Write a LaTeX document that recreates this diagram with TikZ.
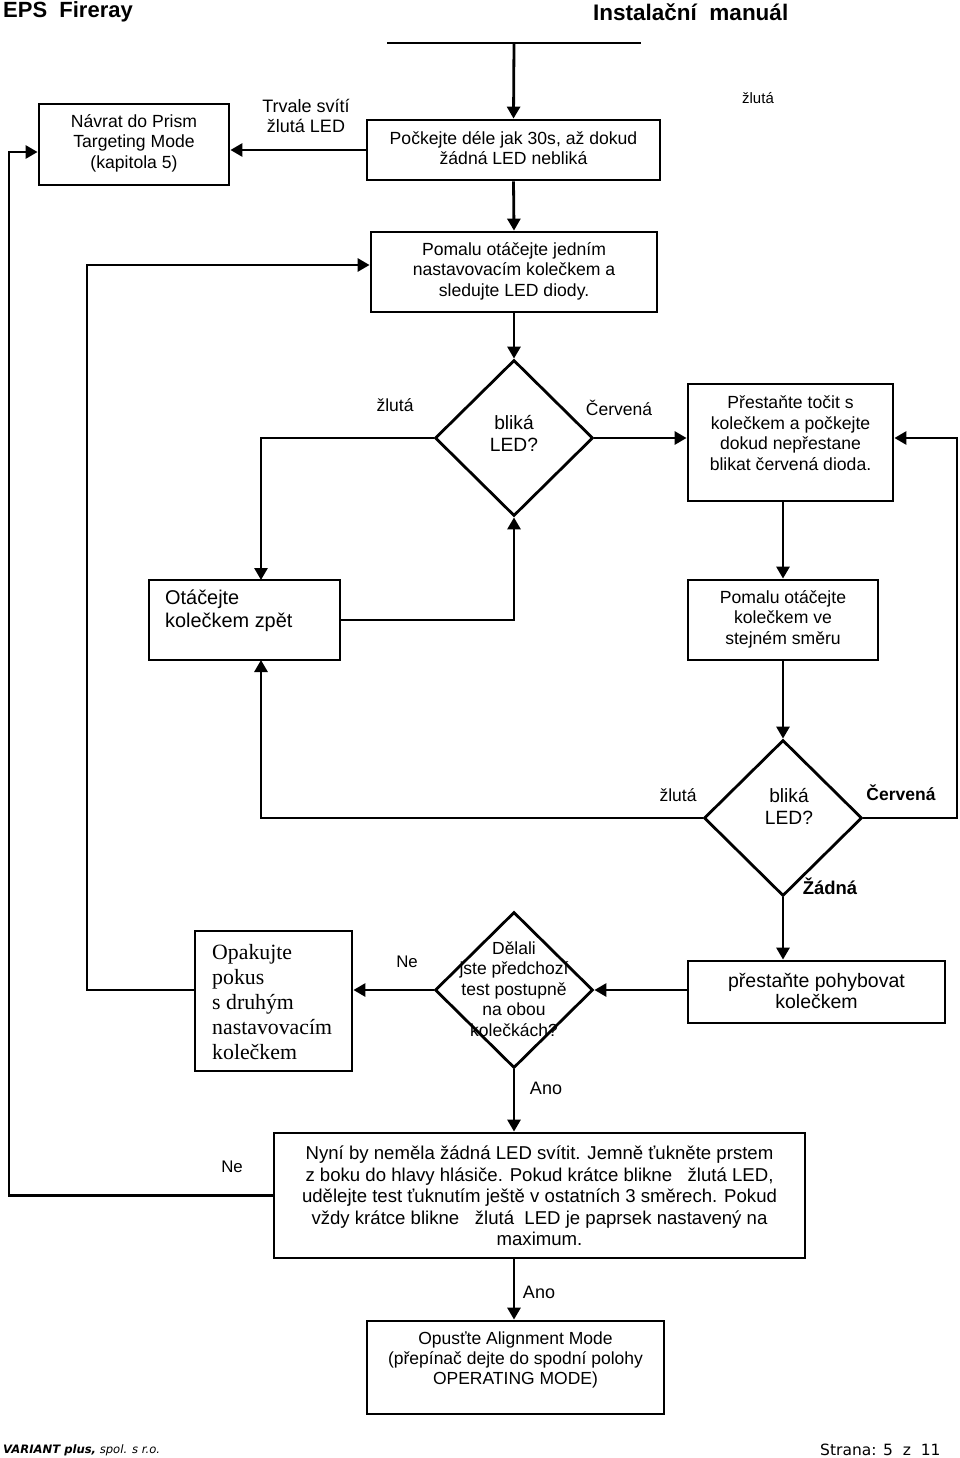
\documentclass[tikz,border=0pt]{standalone}
\usepackage{fontspec}
\setmainfont{Liberation Sans}
\newfontfamily\seriffont{Liberation Serif}
\newfontfamily\footfont{DejaVu Sans}
\usetikzlibrary{arrows.meta,shapes.geometric}
\begin{document}
\begin{tikzpicture}[x=1pt,y=-1pt,
 box/.style={draw,line width=2.8pt,inner sep=0,rectangle},
 dia/.style={draw,line width=2.8pt,inner sep=0,diamond,minimum width=158pt,minimum height=156pt},
 txt/.style={inner sep=0,align=center,font=\fontsize{17.6}{20.5}\selectfont},
 lbl/.style={inner sep=0,align=center,font=\fontsize{17.5}{20}\selectfont},
 conn/.style={line width=2.8pt},
 arr/.style={line width=2.8pt,-{Triangle[length=12pt,width=13pt]}}]
\useasboundingbox (0,0) rectangle (960,1458);

% header / footer
\node[inner sep=0,anchor=west,font=\fontsize{22}{24}\selectfont\bfseries] (h1) at (3,12) {EPS\ \ Fireray};
\node[inner sep=0,anchor=west,font=\fontsize{22.5}{24}\selectfont\bfseries] (h2) at (593,12) {Instalační\ \ manuál};
\node[inner sep=0,anchor=west,font=\fontsize{11.6}{13}\selectfont\footfont\itshape] (f1) at (3,1450) {\textbf{VARIANT plus,} spol. s r.o.};
\node[inner sep=0,anchor=west,font=\fontsize{15.5}{17}\selectfont\footfont] (f2) at (820,1450) {Strana: 5\ \ z\ \ 11};

% boxes
\node[box,minimum width=190pt,minimum height=81pt] (b1) at (134,144.5) {};
\node[box,minimum width=293pt,minimum height=60pt] (b2) at (513.5,150) {};
\node[box,minimum width=286pt,minimum height=80pt] (b3) at (514,272) {};
\node[dia] (d1) at (514,438) {};
\node[box,minimum width=205pt,minimum height=117pt] (b4) at (790.5,442.5) {};
\node[box,minimum width=191pt,minimum height=80pt] (bB) at (244.5,620) {};
\node[box,minimum width=190pt,minimum height=80pt] (b5) at (783,620) {};
\node[dia] (d2) at (783,818) {};
\node[box,minimum width=157pt,minimum height=140pt] (b7) at (273.5,1001) {};
\node[dia] (d3) at (514,990) {};
\node[box,minimum width=257pt,minimum height=62pt] (b6) at (816.5,992) {};
\node[box,minimum width=531pt,minimum height=125pt] (b8) at (539.5,1195.5) {};
\node[box,minimum width=297pt,minimum height=93pt] (b9) at (515.5,1367.5) {};

% texts
\node[txt] (t1) at (134,143) {Návrat do Prism\\Targeting Mode\\(kapitola 5)};
\node[txt] (t2) at (513.5,148) {Počkejte déle jak 30s, až dokud\\žádná LED nebliká};
\node[txt] (t3) at (514,271) {Pomalu otáčejte jedním\\nastavovacím kolečkem a\\sledujte LED diody.};
\node[txt,font=\fontsize{19.2}{22}\selectfont] (td1) at (514,433) {bliká\\LED?};
\node[txt] (t4) at (790.5,433) {Přestaňte točit s\\kolečkem a počkejte\\dokud nepřestane\\blikat červená dioda.};
\node[txt,align=left,anchor=west,font=\fontsize{19.9}{23}\selectfont] (tB) at (165,611) {Otáčejte\\kolečkem zpět};
\node[txt] (t5) at (783,619) {Pomalu otáčejte\\kolečkem ve\\stejném směru};
\node[txt,font=\fontsize{19.2}{22}\selectfont] (td2) at (789,806) {bliká\\LED?};
\node[txt,align=left,anchor=west,font=\fontsize{21.8}{25.2}\selectfont\seriffont] (t7) at (212,1002) {Opakujte\\pokus\\s druhým\\nastavovacím\\kolečkem};
\node[txt,font=\fontsize{17.5}{20.5}\selectfont] (td3) at (514,989) {Dělali\\jste předchozí\\test postupně\\na obou\\kolečkách?};
\node[txt,font=\fontsize{19.5}{21.5}\selectfont] (t6) at (816.5,991) {přestaňte pohybovat\\kolečkem};
\node[txt,font=\fontsize{18.6}{21.6}\selectfont] (t8) at (539.5,1196) {Nyní by neměla žádná LED svítit. Jemně ťukněte prstem\\z boku do hlavy hlásiče. Pokud krátce blikne \ \ žlutá\ LED,\\udělejte test ťuknutím ještě v ostatních 3 směrech. Pokud\\vždy krátce blikne \ \ žlutá\ \ LED je paprsek nastavený na\\maximum.};
\node[txt,font=\fontsize{17.5}{20}\selectfont] (t9) at (515.5,1360) {Opusťte Alignment Mode\\(přepínač dejte do spodní polohy\\OPERATING MODE)};

% labels
\node[lbl,font=\fontsize{18}{20}\selectfont] (l1) at (306,116) {Trvale svítí\\žlutá LED};
\node[lbl,font=\fontsize{15}{16}\selectfont] (l2) at (758,98) {žlutá};
\node[lbl] (l3) at (395,405) {žlutá};
\node[lbl] (l4) at (619,408) {Červená};
\node[lbl] (l5) at (678,795) {žlutá};
\node[lbl,font=\fontsize{17.5}{20}\selectfont\bfseries] (l6) at (901,793) {Červená};
\node[lbl,font=\fontsize{18.5}{20}\selectfont\bfseries] (l7) at (830,886) {Žádná};
\node[lbl,font=\fontsize{16.8}{20}\selectfont] (l8) at (407,962) {Ne};
\node[lbl,font=\fontsize{18}{20}\selectfont] (l9) at (546,1088) {Ano};
\node[lbl,font=\fontsize{16.8}{20}\selectfont] (l10) at (232,1167) {Ne};
\node[lbl,font=\fontsize{18}{20}\selectfont] (l11) at (539,1292) {Ano};

% helper coordinates
\coordinate (topL) at (387,43);
\coordinate (topR) at (641,43);
\coordinate (topM) at (514,43);
\coordinate (xL) at (9,0);
\coordinate (xLL) at (87,0);
\coordinate (xR) at (957,0);
\coordinate (yB3) at (0,265);
\coordinate (yB1) at (0,152);
\coordinate (bBtop) at (261,580);
\coordinate (bBbot) at (261,660);

% connectors
\draw[conn] (topL) -- (topR);
\draw[arr] (topM) -- (b2.north);
\draw[arr] (b2.west) -- (b2.west -| b1.east);
\draw[arr] (b2.south) -- (b3.north);
\draw[arr] (b3.south) -- (d1.north);
\draw[arr] (d1.west) -| (bBtop);
\draw[arr] (d1.east) -- (d1.east -| b4.west);
\draw[arr] (b5.north |- b4.south) -- (b5.north);
\draw[arr] (bB.east) -| (d1.south);
\draw[arr] (b5.south) -- (d2.north);
\draw[arr] (d2.east) -- (d2.east -| xR) -- (xR |- d1.east) -- (b4.east |- d1.east);
\draw[arr] (d2.west) -| (bBbot);
\draw[arr] (d2.south) -- (d2.south |- b6.north);
\draw[arr] (b6.west |- d3.east) -- (d3.east);
\draw[arr] (d3.west) -- (d3.west -| b7.east);
\draw[arr] (b7.west |- d3.west) -- (xLL |- d3.west) -- (xLL |- yB3) -- (b3.west |- yB3);
\draw[arr] (d3.south) -- (d3.south |- b8.north);
\draw[arr] (b8.west) -- (xL |- b8.west) -- (xL |- yB1) -- (b1.west |- yB1);
\draw[arr] (d3.south |- b8.south) -- (d3.south |- b9.north);
\end{tikzpicture}
\end{document}
